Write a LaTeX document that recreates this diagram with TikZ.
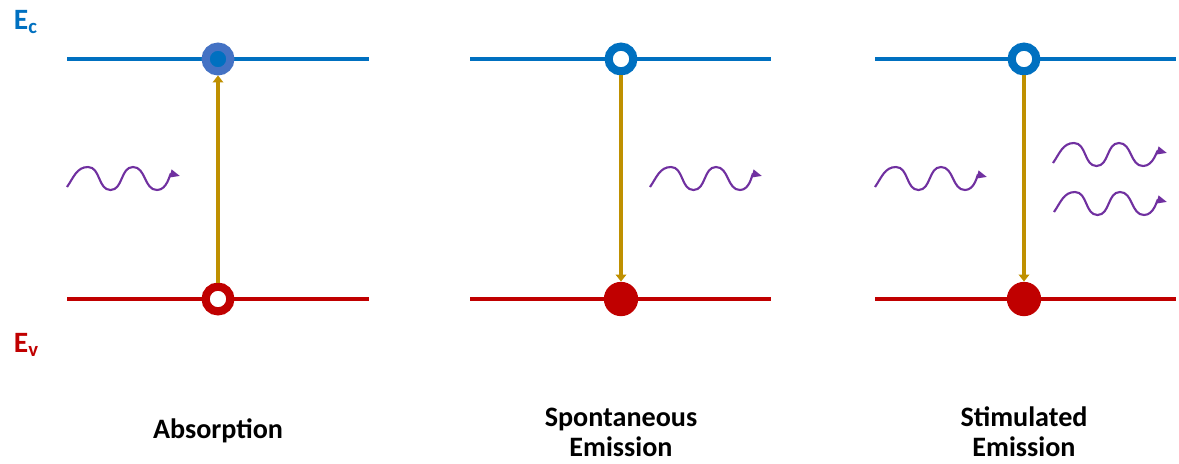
\documentclass[tikz,border=0pt]{standalone}
\usepackage{fontspec}
\setmainfont{Carlito}
\usetikzlibrary{arrows.meta}

\definecolor{ecblue}{HTML}{0070C0}
\definecolor{evred}{HTML}{C00000}
\definecolor{elblue}{HTML}{4472C4}
\definecolor{trgold}{HTML}{BF9000}
\definecolor{phviolet}{HTML}{7030A0}

\tikzset{
  band/.style={line width=2.3pt},
  ring/.style={circle, inner sep=0pt, minimum size=17.6pt, line width=5.8pt, fill=white},
  carrier/.style={circle, inner sep=0pt, minimum size=24.4pt, fill=evred},
  transition/.style={trgold, line width=2.2pt, -{Triangle[length=5pt,width=7.5pt]}},
  photon/.style={phviolet, line width=1.5pt, -{Triangle[length=7pt,width=5.5pt]}},
  caption/.style={font=\fontsize{20}{21.5}\selectfont\bfseries, align=center},
  level/.style={font=\fontsize{21}{24}\selectfont\bfseries, anchor=base west}
}

\begin{document}
\begin{tikzpicture}[x=0.025cm, y=-0.025cm]
      \useasboundingbox (0,0) rectangle (1179,463);
      % band edges
      \node[level, text=ecblue] (Ec) at (9,29) {E\textsubscript{c}};
      \node[level, text=evred] (Ev) at (9,352) {E\textsubscript{v}};
      \draw[band, ecblue] (67,59) -- (369,59);
      \draw[band, ecblue] (470,59) -- (771,59);
      \draw[band, ecblue] (875,59) -- (1176,59);
      \draw[band, evred] (67,299) -- (369,299);
      \draw[band, evred] (470,299) -- (771,299);
      \draw[band, evred] (875,299) -- (1176,299);
      % absorption
      \node[ring, draw=elblue, fill=ecblue] (e1) at (218,59) {};
      \node[ring, draw=evred] (h1) at (218,299) {};
      \draw[transition] (h1) -- (e1);
      \draw[photon, shift={(67,187)}] (0,0) to[out=55,in=180] (21,-20) to[out=0,in=180] (43.5,3) to[out=0,in=180] (66,-20) to[out=0,in=180] (90,3) to[out=0,in=165] (113,-11);
      % spontaneous emission
      \node[ring, draw=ecblue] (e2) at (621,59) {};
      \node[carrier] (h2) at (621,299) {};
      \draw[transition] (e2) -- (h2);
      \draw[photon, shift={(650,187)}] (0,0) to[out=55,in=180] (21,-20) to[out=0,in=180] (43.5,3) to[out=0,in=180] (66,-20) to[out=0,in=180] (90,3) to[out=0,in=165] (112,-11);
      % stimulated emission
      \node[ring, draw=ecblue] (e3) at (1024,59) {};
      \node[carrier] (h3) at (1024,299) {};
      \draw[transition] (e3) -- (h3);
      \draw[photon, shift={(875,187)}] (0,0) to[out=55,in=180] (21,-20) to[out=0,in=180] (43.5,3) to[out=0,in=180] (66,-20) to[out=0,in=180] (90,3) to[out=0,in=165] (112,-10);
      \draw[photon, shift={(1053,163)}] (0,0) to[out=55,in=180] (21,-20) to[out=0,in=180] (43.5,3) to[out=0,in=180] (66,-20) to[out=0,in=180] (90,3) to[out=0,in=165] (114,-10);
      \draw[photon, shift={(1054,212)}] (0,0) to[out=55,in=180] (21,-20) to[out=0,in=180] (43.5,3) to[out=0,in=180] (66,-20) to[out=0,in=180] (90,3) to[out=0,in=165] (113,-10);
      % captions
      \node[caption] (abs) at (218,431) {Absorption};
      \node[caption] (spon) at (621,432) {Spontaneous\\Emission};
      \node[caption] (stim) at (1024,432) {Stimulated\\Emission};
\end{tikzpicture}
\end{document}
